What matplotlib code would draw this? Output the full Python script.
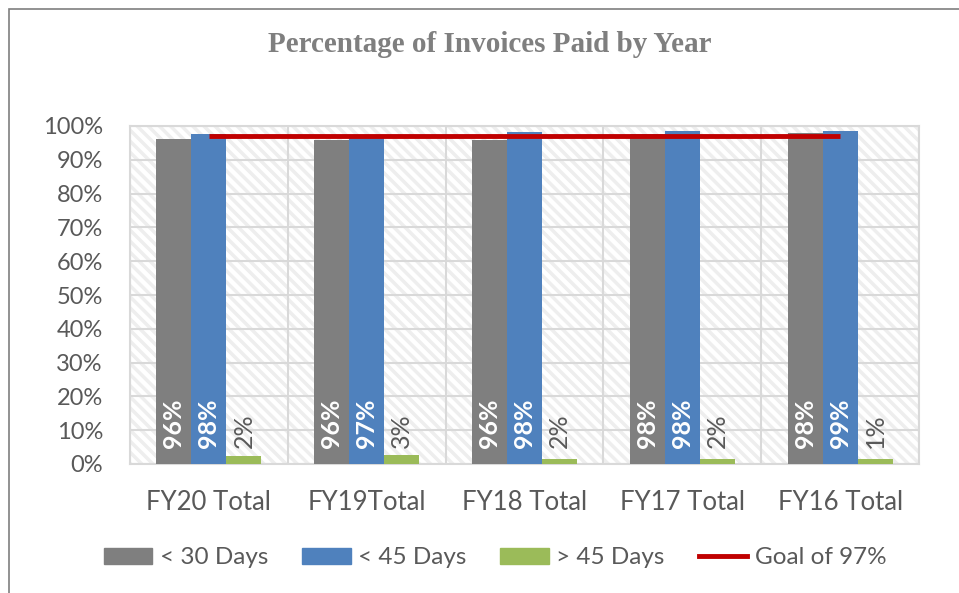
import numpy as np
import matplotlib.pyplot as plt
from matplotlib.patches import Rectangle, Patch
from matplotlib.lines import Line2D
from matplotlib.ticker import PercentFormatter

categories = ['FY20 Total', 'FY19Total', 'FY18 Total', 'FY17 Total', 'FY16 Total']
under_30 = [96.2, 95.8, 95.9, 97.6, 97.8]
under_45 = [97.6, 97.2, 98.3, 98.4, 98.6]
over_45 = [2.4, 2.6, 1.6, 1.6, 1.4]
goal = 97

plt.rcParams['font.family'] = ['Lato', 'DejaVu Sans']
plt.rcParams['hatch.linewidth'] = 2.5

gray = '#7f7f7f'
blue = '#4f81bd'
green = '#9bbb59'
red = '#c00000'
text_c = '#595959'

fig = plt.figure(figsize=(9.59, 5.93), dpi=100)
ax = fig.add_axes([130 / 959, 1 - 464 / 593, 789 / 959, 338 / 593])

# figure border
fig.patches.append(Rectangle((9 / 959, -0.01), 1.0, 1 - 9 / 593 + 0.01,
                             transform=fig.transFigure, fill=False,
                             edgecolor='#7f7f7f', linewidth=1.2))

# hatched plot background
ax.add_patch(Rectangle((0, 0), 1, 1, transform=ax.transAxes, facecolor='white',
                       edgecolor='#eeeeee', hatch='\\\\\\', linewidth=0, zorder=0))

x = np.arange(len(categories))
w = 0.222
ax.bar(x - w, under_30, w, color=gray, zorder=3)
ax.bar(x, under_45, w, color=blue, zorder=3)
ax.bar(x + w, over_45, w, color=green, zorder=3)
ax.plot([x[0], x[-1]], [goal, goal], color=red, linewidth=3.5, zorder=4,
        solid_capstyle='butt')

for i in range(len(categories)):
    ax.text(x[i] - w, 4.8, f'{under_30[i]:.0f}%', rotation=90, ha='center', va='bottom',
            color='white', fontsize=18, fontweight='bold', zorder=5)
    ax.text(x[i], 4.8, f'{under_45[i]:.0f}%', rotation=90, ha='center', va='bottom',
            color='white', fontsize=18, fontweight='bold', zorder=5)
    ax.text(x[i] + w, 4.8, f'{round(over_45[i])}%', rotation=90, ha='center',
            va='bottom', color=text_c, fontsize=18, zorder=5)

ax.set_xlim(-0.5, len(categories) - 0.5)
ax.set_ylim(0, 100)
ax.set_yticks(range(0, 101, 10))
ax.yaxis.set_major_formatter(PercentFormatter(decimals=0))
ax.set_xticks(x)
ax.set_xticklabels(categories)
ax.set_xticks(np.arange(-0.5, len(categories), 1), minor=True)
ax.grid(axis='y', which='major', color='#d9d9d9', linewidth=1.5, zorder=1)
ax.grid(axis='x', which='minor', color='#d9d9d9', linewidth=1.5, zorder=1)
ax.grid(axis='x', which='major', visible=False)
ax.tick_params(which='both', length=0, colors=text_c)
ax.tick_params(axis='x', pad=19, labelsize=18.5)
ax.tick_params(axis='y', pad=19.5, labelsize=17)
for s in ax.spines.values():
    s.set_color('#d9d9d9')
    s.set_linewidth(1.5)

fig.text(490 / 959, 1 - 44 / 593, 'Percentage of Invoices Paid by Year', ha='center', va='center',
         fontsize=21, fontweight='bold', color='#7f7f7f', family='Liberation Serif')

handles = [Patch(color=gray), Patch(color=blue), Patch(color=green),
           Line2D([], [], color=red, linewidth=3.5)]
labels = ['< 30 Days', '< 45 Days', '> 45 Days', 'Goal of 97%']
fig.legend(handles, labels, loc='center', bbox_to_anchor=(495 / 959, 1 - 558 / 593), ncol=4,
           frameon=False, fontsize=17.5, labelcolor=text_c, handlelength=2.0, handleheight=0.62,
           handletextpad=0.3, columnspacing=1.4)

fig.savefig('out.png', dpi=100)
